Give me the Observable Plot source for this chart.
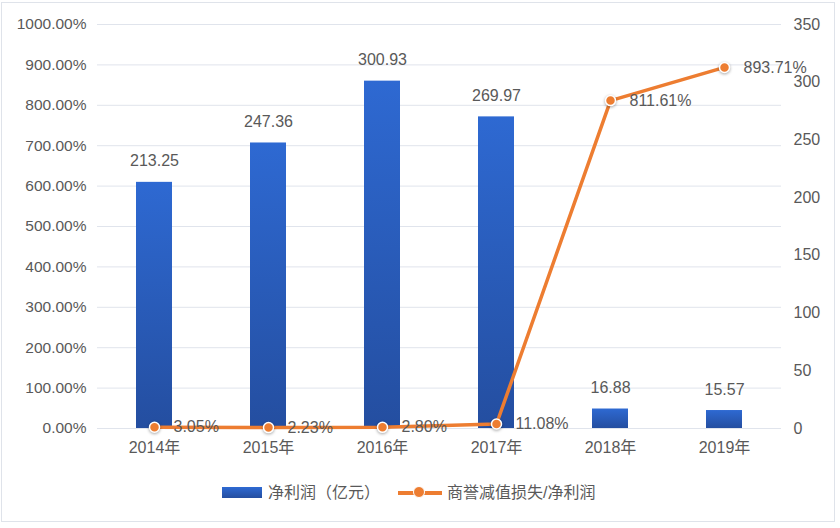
<!DOCTYPE html>
<html><head><meta charset="utf-8">
<script src="https://cdn.jsdelivr.net/npm/d3@7"></script>
<script src="https://cdn.jsdelivr.net/npm/@observablehq/plot@0.6"></script>
<style>
body{margin:0;background:#fff;font-family:"Liberation Sans","Noto Sans CJK SC",sans-serif;}
#wrap{position:relative;width:840px;height:528px;overflow:hidden;}
#frame{position:absolute;left:1px;top:2px;width:834px;height:520px;border:1px solid #dfe3ea;box-sizing:border-box;}
#chart{position:absolute;left:0;top:0;}
#legend{position:absolute;left:0;top:482px;width:840px;height:22px;color:#595959;font-size:16px;}
.lg{position:absolute;}
g[aria-label="dot"] circle{filter:drop-shadow(0px 1px 1.5px rgba(0,0,0,0.35));}
</style>
</head><body>
<div id="wrap">
  <div id="frame"></div>
  <div id="chart"></div>
  <div id="legend">
    <div class="lg" style="left:222px;top:5px;width:40px;height:11px;background:linear-gradient(#2e69d2,#244ea0);"></div>
    <div class="lg" style="left:268px;top:0px;line-height:22px;">净利润（亿元）</div>
    <div class="lg" style="left:398px;top:9px;width:44px;height:4px;background:#ed7d31;"></div>
    <div class="lg" style="left:414px;top:5px;width:10px;height:10px;border-radius:50%;background:#ed7d31;border:1.5px solid #fff;box-sizing:content-box;margin-left:-1.5px;margin-top:-1.5px;"></div>
    <div class="lg" style="left:447px;top:0px;line-height:22px;">商誉减值损失/净利润</div>
  </div>
</div>
<script>
const years = ["2014年","2015年","2016年","2017年","2018年","2019年"];
const netProfit = [213.25, 247.36, 300.93, 269.97, 16.88, 15.57];
const ratioPct = [3.05, 2.23, 2.80, 11.08, 811.61, 893.71];
const leftTicks = [0,100,200,300,400,500,600,700,800,900,1000];
const rightTicks = [0,50,100,150,200,250,300,350];

const k = 1000/350; // right axis (0-350) mapped onto left axis (0-1000%)
const data = years.map((y,i)=>({year:y, profit:netProfit[i], ratio:ratioPct[i]}));
const gray = "#595959";

const chart = Plot.plot({
  width: 840,
  height: 470,
  marginTop: 24,
  marginBottom: 42,
  marginLeft: 97,
  marginRight: 59,
  style: {fontFamily:'"Liberation Sans","Noto Sans CJK SC",sans-serif', fontSize:"15px", color:gray, background:"transparent"},
  x: {domain: years, paddingInner: 0.685, paddingOuter: 0.3425},
  y: {domain: [0,1000]},
  marks: [
    Plot.ruleY(leftTicks, {stroke:"#e0e4ec", strokeWidth:1}),
    Plot.barY(data, {x:"year", y: d=>d.profit*k, fill:"url(#barGrad)"}),
    Plot.text(data, {x:"year", y: d=>d.profit*k, text: d=>d.profit.toFixed(2), dy:-21, fill:gray, fontSize:16}),
    Plot.line(data, {x:"year", y:"ratio", stroke:"#ed7d31", strokeWidth:3.5}),
    Plot.dot(data, {x:"year", y:"ratio", r:5, fill:"#ed7d31", stroke:"#fff", strokeWidth:1.5}),
    Plot.text(data, {x:"year", y:"ratio", text: d=>d.ratio.toFixed(2)+"%", textAnchor:"start", dx:19, fill:gray, fontSize:16}),
    Plot.axisY(leftTicks, {anchor:"left", tickSize:0, tickPadding:11, tickFormat: d=>d.toFixed(2)+"%", fontSize:15.5, label:null}),
    Plot.axisY(rightTicks.map(v=>v*k), {anchor:"right", tickSize:0, tickPadding:12, tickFormat: d=>String(Math.round(d/k)), fontSize:16, label:null}),
    Plot.axisX({tickSize:0, tickPadding:13, fontSize:16, label:null})
  ]
});
const svg = d3.select(chart);
const defs = svg.insert("defs", ":first-child");
const g = defs.append("linearGradient").attr("id","barGrad").attr("x1",0).attr("y1",0).attr("x2",0).attr("y2",1);
g.append("stop").attr("offset","0%").attr("stop-color","#2e69d2");
g.append("stop").attr("offset","100%").attr("stop-color","#244ea0");
document.getElementById("chart").appendChild(chart);
</script>
</body></html>
